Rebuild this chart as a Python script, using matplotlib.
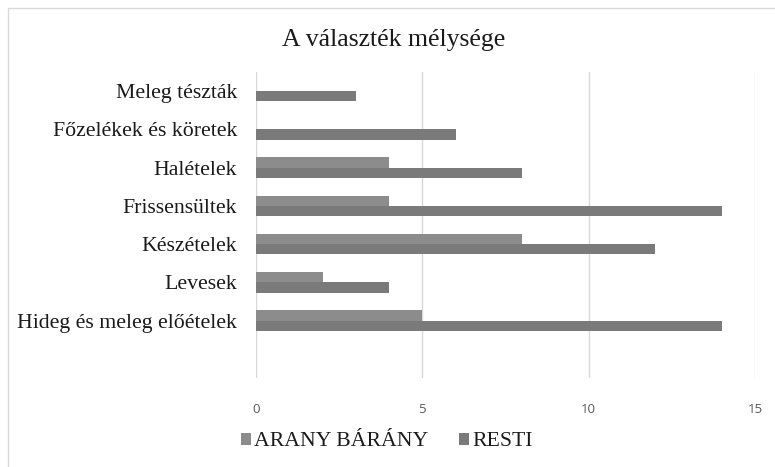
import matplotlib.pyplot as plt
import numpy as np
from matplotlib.patches import Rectangle

# --- DATA ---
categories = ["Meleg tészták", "Főzelékek és köretek", "Halételek", "Frissensültek",
              "Készételek", "Levesek", "Hideg és meleg előételek"]
arany_barany = [0, 0, 4, 4, 8, 2, 5]
resti = [3, 6, 8, 14, 12, 4, 14]
x_ticks = [0, 5, 10, 15]

SERIF = ["Liberation Serif", "DejaVu Serif"]

# --- PLOT ---
fig = plt.figure(figsize=(7.75, 4.67), dpi=100)
ax = fig.add_axes([256 / 775, 1 - 378 / 467, 499 / 775, 306 / 467])

# chart frame
fig.patches.append(Rectangle((8 / 775, -0.1), 1.1, 1 - 8 / 467 + 0.1,
                             transform=fig.transFigure, fill=False,
                             edgecolor="#d9d9d9", linewidth=1))

y = np.arange(len(categories))
h = 0.27
ax.barh(y - h / 2, arany_barany, height=h, color="#8c8c8c", linewidth=0,
        label="ARANY BÁRÁNY", zorder=3)
ax.barh(y + h / 2, resti, height=h, color="#7a7a7a", linewidth=0,
        label="RESTI", zorder=3)

# one empty slot at the bottom, like the original
ax.set_ylim(len(categories) + 0.5, -0.5)
ax.set_xlim(0, 15)
ax.set_xticks(x_ticks)
ax.set_yticks(y)
ax.set_yticklabels(categories, family=SERIF, fontsize=15.7, color="#1a1a1a")
ax.tick_params(axis="y", length=0, pad=13.5)
ax.tick_params(axis="x", length=0, pad=18, labelsize=9.5, labelcolor="#595959")
for lab in ax.get_xticklabels():
    lab.set_family(["Open Sans", "DejaVu Sans"])

ax.grid(axis="x", color="#d9d9d9", linewidth=1, zorder=0)
for s in ax.spines.values():
    s.set_visible(False)

fig.text(394 / 775, 1 - 40 / 467, "A választék mélysége", ha="center", va="center",
         family=SERIF, fontsize=18.5, color="#1a1a1a")

leg = fig.legend(loc="center", bbox_to_anchor=(387 / 775, 1 - 442 / 467), ncol=2,
                 frameon=False, prop={"family": SERIF, "size": 15.7},
                 handlelength=0.45, handleheight=0.45, handletextpad=0.15,
                 columnspacing=1.4)
for t in leg.get_texts():
    t.set_color("#1a1a1a")

fig.savefig("out.png", dpi=100)
